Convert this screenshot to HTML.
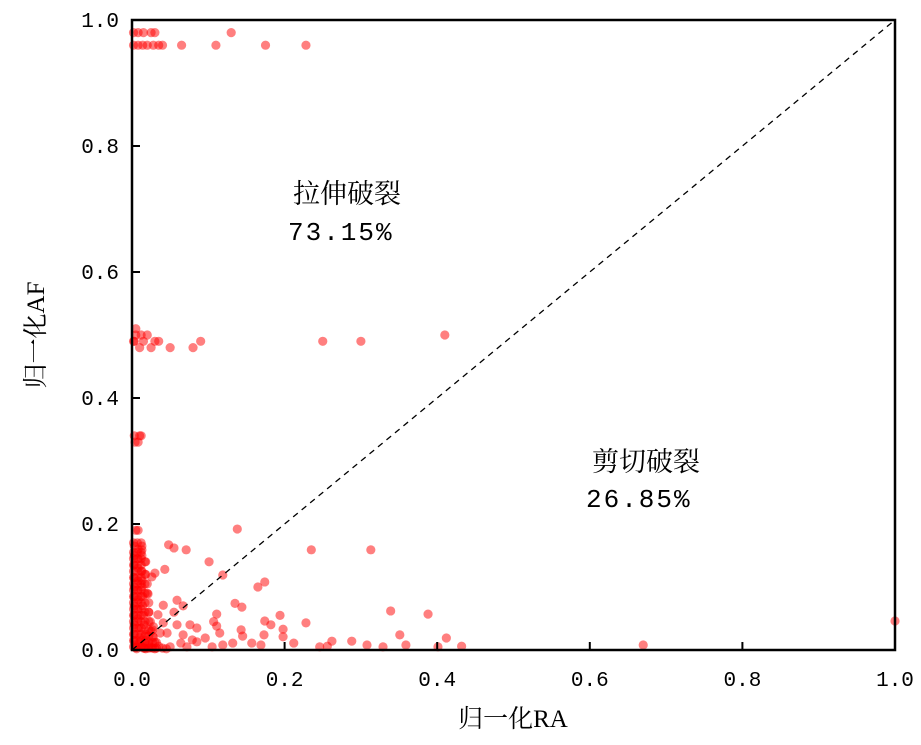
<!DOCTYPE html>
<html><head><meta charset="utf-8">
<style>
html,body{margin:0;padding:0;background:#fff;}
svg text{font-family:"Liberation Mono","Noto Serif CJK SC",monospace;fill:#000;}
svg text.cjk{font-family:"Liberation Serif","Noto Serif CJK SC",serif;}
</style></head>
<body>
<svg id="chart" width="921" height="740" viewBox="0 0 921 740" xmlns="http://www.w3.org/2000/svg">
<g id="pts"></g>
<line x1="132" y1="650" x2="895" y2="20" stroke="#000" stroke-width="1.3" stroke-dasharray="6,5"/>
<rect x="132" y="20" width="763" height="630" fill="none" stroke="#000" stroke-width="2.5"/>
<g id="ticks"></g>
<text class="cjk" x="293" y="203" font-size="27">拉伸破裂</text>
<text x="288" y="240" font-size="26" letter-spacing="2">73.15%</text>
<text class="cjk" x="592" y="471" font-size="27">剪切破裂</text>
<text x="586" y="507" font-size="26" letter-spacing="2">26.85%</text>
<text class="cjk" x="513" y="727" font-size="25" text-anchor="middle">归一化RA</text>
<text class="cjk" transform="translate(44,335) rotate(-90)" font-size="25" text-anchor="middle">归一化AF</text>
</svg>
<script>
const xTicks=[0,0.2,0.4,0.6,0.8,1.0];
const yTicks=[0,0.2,0.4,0.6,0.8,1.0];
const tickLabels=["0.0","0.2","0.4","0.6","0.8","1.0"];
const ptsX=[0.002,0.008,0.015,0.025,0.03,0.002,0.008,0.014,0.02,0.028,0.035,0.04,0.065,0.11,0.175,0.228,0.13,
0.002,0.005,0.01,0.015,0.02,0.025,0.03,0.035,0.05,0.08,0.09,0.25,0.30,0.41,0.005,0.012,0.003,
0.003,0.008,0.012,0.004,0.01,
0.005,0.138,0.048,0.055,0.071,0.235,0.313,0.101,0.043,0.119,0.174,0.165,0.059,0.135,0.144,0.041,0.067,0.021,0.339,0.388,0.055,0.111,0.034,0.194,
0.174,0.107,0.228,0.182,0.059,0.041,0.076,0.111,0.085,0.198,0.143,0.115,0.173,0.351,0.145,0.198,0.046,0.067,0.412,0.096,0.079,0.262,0.288,0.085,0.132,0.157,0.212,0.064,0.246,0.256,0.308,0.329,0.359,0.401,0.432,0.169,0.119,0.105,0.072,0.05,0.037,0.028,0.030,0.026,0.017,0.013,0.008,0.67,1.0,
0.003,0.008,0.013,0.003,0.008,0.013,0.018,0.003,0.008,0.013,0.018,0.003,0.008,0.013,0.02,0.003,0.008,0.013,0.02,0.003,0.008,0.014,0.022,0.003,0.008,0.014,0.022,0.003,0.008,0.015,0.024,0.003,0.009,0.016,0.025,0.003,0.01,0.018,0.028,0.003,0.01,0.018,0.03,0.004,0.012,0.022,0.035,0.005,0.015,0.025,0.04,0.006,0.018,0.03,0.045,
0.002,0.007,0.012,0.002,0.007,0.012,0.002,0.007,0.012,0.002,0.007,0.012,0.002,0.007,0.012,0.002,0.007,0.012,0.002,0.007,0.012,0.002,0.007,0.012,0.002,0.007,0.012,0.002,0.007,0.012,0.002,0.007,0.012,0.002,0.007,0.012,0.002,0.007,0.012,0.002,0.007,0.012,0.002,0.007,0.012,0.002,0.007,0.012,0.002,0.007,0.012,
0.017,0.022,0.027,0.032,0.017,0.022,0.027,0.032,0.017,0.022,0.027,0.017,0.022,0.027,0.017,0.022,0.017,0.022,0.017,0.017,0.017,0.017];
const ptsY=[0.98,0.98,0.98,0.98,0.98,0.96,0.96,0.96,0.96,0.96,0.96,0.96,0.96,0.96,0.96,0.96,0.98,
0.49,0.50,0.48,0.49,0.50,0.48,0.49,0.49,0.48,0.48,0.49,0.49,0.49,0.50,0.51,0.50,0.49,
0.34,0.33,0.34,0.33,0.34,
0.19,0.192,0.167,0.162,0.159,0.159,0.159,0.140,0.128,0.119,0.108,0.100,0.079,0.074,0.068,0.071,0.070,0.089,0.062,0.057,0.060,0.057,0.056,0.055,
0.046,0.045,0.043,0.040,0.040,0.043,0.040,0.038,0.035,0.033,0.032,0.027,0.024,0.024,0.022,0.021,0.027,0.024,0.019,0.019,0.016,0.014,0.014,0.013,0.011,0.011,0.011,0.011,0.005,0.006,0.008,0.005,0.008,0.005,0.006,0.008,0.008,0.005,0.005,0.005,0.027,0.037,0.122,0.116,0.14,0.159,0.19,0.008,0.046,
0.165,0.16,0.165,0.15,0.145,0.15,0.14,0.135,0.13,0.125,0.12,0.115,0.11,0.11,0.105,0.10,0.095,0.10,0.09,0.085,0.08,0.085,0.075,0.07,0.065,0.07,0.06,0.055,0.05,0.055,0.045,0.04,0.035,0.04,0.03,0.025,0.02,0.025,0.02,0.015,0.012,0.015,0.012,0.008,0.006,0.008,0.006,0.004,0.003,0.004,0.003,0.002,0.002,0.002,0.002,
0.005,0.005,0.005,0.015,0.015,0.015,0.025,0.025,0.025,0.035,0.035,0.035,0.045,0.045,0.045,0.055,0.055,0.055,0.065,0.065,0.065,0.075,0.075,0.075,0.085,0.085,0.085,0.095,0.095,0.095,0.105,0.105,0.105,0.115,0.115,0.115,0.125,0.125,0.125,0.135,0.135,0.135,0.145,0.145,0.145,0.155,0.155,0.155,0.17,0.17,0.17,
0.003,0.003,0.003,0.003,0.012,0.012,0.012,0.012,0.022,0.022,0.022,0.032,0.032,0.032,0.045,0.045,0.06,0.06,0.075,0.09,0.105,0.12];
const X0=132,X1=895,Y0=650,Y1=20;
const sx=v=>X0+v*(X1-X0), sy=v=>Y0-v*(Y0-Y1);
const NS="http://www.w3.org/2000/svg";
const g=document.getElementById('pts');
for(let i=0;i<ptsX.length;i++){
  const c=document.createElementNS(NS,'circle');
  c.setAttribute('cx',sx(ptsX[i]));c.setAttribute('cy',sy(ptsY[i]));
  c.setAttribute('r',4.6);c.setAttribute('fill','rgba(255,0,0,0.5)');
  
  
  g.appendChild(c);
}
const t=document.getElementById('ticks');
xTicks.forEach((v,i)=>{
  const l=document.createElementNS(NS,'line');
  l.setAttribute('x1',sx(v));l.setAttribute('x2',sx(v));l.setAttribute('y1',650);l.setAttribute('y2',642);
  l.setAttribute('stroke','#000');l.setAttribute('stroke-width',2);
  
  
  t.appendChild(l);
  const tx=document.createElementNS(NS,'text');
  tx.setAttribute('x',sx(v));tx.setAttribute('y',686);tx.setAttribute('font-size',21);tx.setAttribute('text-anchor','middle');
  tx.textContent=tickLabels[i];
  
  
  t.appendChild(tx);
});
yTicks.forEach((v,i)=>{
  const l=document.createElementNS(NS,'line');
  l.setAttribute('y1',sy(v));l.setAttribute('y2',sy(v));l.setAttribute('x1',132);l.setAttribute('x2',140);
  l.setAttribute('stroke','#000');l.setAttribute('stroke-width',2);
  
  
  t.appendChild(l);
  const tx=document.createElementNS(NS,'text');
  tx.setAttribute('x',119);tx.setAttribute('y',sy(v)+7);tx.setAttribute('font-size',21);tx.setAttribute('text-anchor','end');
  tx.textContent=tickLabels[i];
  
  
  t.appendChild(tx);
});
</script>
</body></html>
